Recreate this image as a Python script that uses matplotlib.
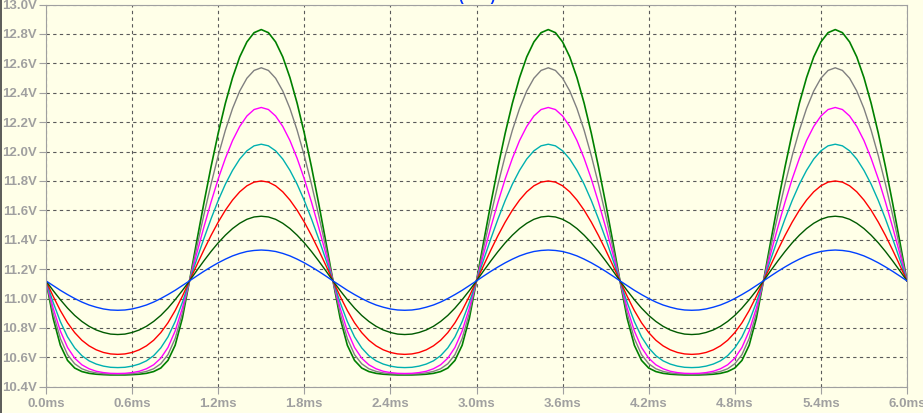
import numpy as np
import matplotlib
matplotlib.use("Agg")
from matplotlib import pyplot as plt
from matplotlib.lines import Line2D

# one period (2 ms) of each trace, sampled every 0.05 ms, read off the screen
# first half = trough side, second half = peak side
blue = [11.120, 11.088, 11.056, 11.027, 11.000, 10.976, 10.956, 10.941, 10.929, 10.922,
        10.920, 10.922, 10.929, 10.941, 10.956, 10.976, 11.000, 11.027, 11.056, 11.088,
        11.120, 11.153, 11.185, 11.215, 11.243, 11.268, 11.290, 11.307, 11.320, 11.327,
        11.330, 11.327, 11.320, 11.307, 11.290, 11.268, 11.243, 11.215, 11.185, 11.153]
dkgreen = [11.120, 11.054, 10.992, 10.935, 10.885, 10.844, 10.811, 10.786, 10.769, 10.758,
           10.755, 10.758, 10.769, 10.786, 10.811, 10.844, 10.885, 10.935, 10.992, 11.054,
           11.120, 11.189, 11.256, 11.320, 11.379, 11.431, 11.476, 11.512, 11.539, 11.555,
           11.560, 11.555, 11.539, 11.512, 11.476, 11.431, 11.379, 11.320, 11.256, 11.189]
red = [11.120, 11.015, 10.918, 10.835, 10.768, 10.716, 10.678, 10.651, 10.633, 10.623,
       10.620, 10.623, 10.633, 10.651, 10.678, 10.716, 10.768, 10.835, 10.918, 11.015,
       11.120, 11.226, 11.330, 11.429, 11.520, 11.601, 11.670, 11.726, 11.767, 11.792,
       11.800, 11.792, 11.767, 11.726, 11.670, 11.601, 11.520, 11.429, 11.330, 11.226]
cyan = [11.120, 10.973, 10.843, 10.739, 10.664, 10.611, 10.576, 10.554, 10.540, 10.532,
        10.530, 10.532, 10.540, 10.554, 10.576, 10.611, 10.664, 10.739, 10.843, 10.973,
        11.120, 11.265, 11.407, 11.542, 11.667, 11.778, 11.872, 11.949, 12.005, 12.039,
        12.050, 12.039, 12.005, 11.949, 11.872, 11.778, 11.667, 11.542, 11.407, 11.265]
magenta = [11.120, 10.934, 10.779, 10.667, 10.594, 10.549, 10.522, 10.505, 10.496, 10.491,
           10.490, 10.491, 10.496, 10.505, 10.522, 10.549, 10.594, 10.667, 10.779, 10.934,
           11.120, 11.305, 11.485, 11.656, 11.814, 11.954, 12.075, 12.171, 12.242, 12.286,
           12.300, 12.286, 12.242, 12.171, 12.075, 11.954, 11.814, 11.656, 11.485, 11.305]
gray = [11.120, 10.899, 10.728, 10.618, 10.556, 10.522, 10.504, 10.494, 10.488, 10.486,
        10.485, 10.486, 10.488, 10.494, 10.504, 10.522, 10.556, 10.618, 10.728, 10.899,
        11.120, 11.347, 11.568, 11.778, 11.972, 12.145, 12.293, 12.412, 12.499, 12.552,
        12.570, 12.552, 12.499, 12.412, 12.293, 12.145, 11.972, 11.778, 11.568, 11.347]
green = [11.120, 10.865, 10.682, 10.579, 10.527, 10.503, 10.491, 10.485, 10.482, 10.480,
         10.480, 10.480, 10.482, 10.485, 10.491, 10.503, 10.527, 10.579, 10.682, 10.865,
         11.120, 11.387, 11.648, 11.896, 12.125, 12.329, 12.503, 12.644, 12.746, 12.809,
         12.830, 12.809, 12.746, 12.644, 12.503, 12.329, 12.125, 11.896, 11.648, 11.387]

n_periods = 3
t_step = 0.05  # ms

x_ticks = [0.0, 0.6, 1.2, 1.8, 2.4, 3.0, 3.6, 4.2, 4.8, 5.4, 6.0]
y_ticks = [10.4, 10.6, 10.8, 11.0, 11.2, 11.4, 11.6, 11.8, 12.0, 12.2, 12.4, 12.6, 12.8, 13.0]

traces = [(green, '#008000', 1.2), (gray, '#808080', 1.0), (magenta, '#ff00ff', 1.0),
          (cyan, '#00b0b0', 1.0), (red, '#ff0000', 1.0), (dkgreen, '#005a00', 1.0),
          (blue, '#0040ff', 1.0)]

bg = '#ffffe8'
axcol = '#a0a0a0'
plt.rcParams['font.family'] = ['Liberation Sans', 'DejaVu Sans']

fig = plt.figure(figsize=(9.23, 4.13), dpi=100, facecolor=bg)
ax = fig.add_axes([46/923, (413-386.7)/413, 861/923, 382.1/413])
ax.set_facecolor(bg)

for vals, col, lw in traces:
    v = np.concatenate([np.tile(vals, n_periods), vals[:1]])
    t = np.arange(len(v)) * t_step
    ax.plot(t, v, color=col, lw=lw, solid_joinstyle='round')

ax.set_xlim(0, 6.0)
ax.set_ylim(10.4, 13.0)
ax.set_xticks(x_ticks)
ax.set_yticks(y_ticks)
ax.set_xticklabels([f'{x:.1f}ms' for x in x_ticks])
ax.set_yticklabels([f'{y:.1f}V' for y in y_ticks])
ax.tick_params(colors=axcol, labelcolor=axcol, length=5, width=0.8, labelsize=9.5)
ax.tick_params(axis='y', pad=1.5)
ax.tick_params(axis='x', pad=3)
for lab in ax.get_xticklabels() + ax.get_yticklabels():
    lab.set_fontweight('bold')
for s in ax.spines.values():
    s.set_color(axcol)
    s.set_linewidth(0.8)

ax.grid(True, color='#5a5a5a', lw=0.8, linestyle=(0, (3, 3)))
ax.set_axisbelow(True)

# trace name cut off at the top edge
fig.text(477/923, 1 - 1.5/413, '(       )', color='#0030ff', ha='center', va='baseline',
         fontsize=10, fontweight='bold')
fig.add_artist(Line2D([0.5/923, 0.5/923], [0, 1], color='#404040', lw=1.2))

fig.savefig('out.png', dpi=100, facecolor=bg)
